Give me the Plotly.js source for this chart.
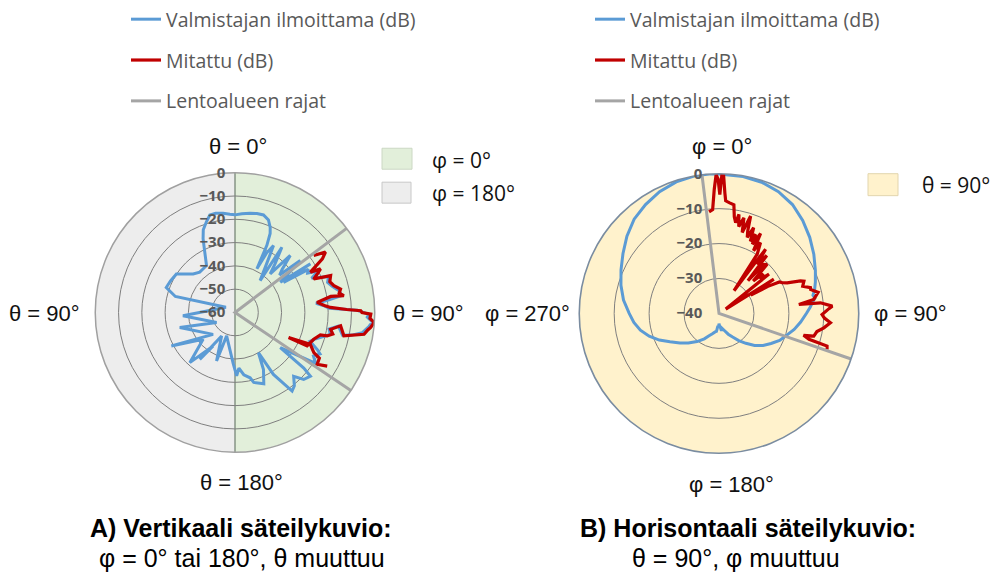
<!DOCTYPE html>
<html>
<head>
<meta charset="utf-8">
<script src="https://cdn.plot.ly/plotly-3.0.1.min.js"></script>
<style>
  html, body { margin: 0; padding: 0; background: #ffffff; }
  #chart { width: 993px; height: 572px; }
</style>
</head>
<body>
<div id="chart"></div>
<script>
// ---------- A) vertical pattern: θ sweeps, φ = 0° (right half) or 180° (left half) ----------
const vertManufTheta = [0, 4, 8.6, 12.5, 16.3, 19.9, 22.5, 24, 25.4, 26.6, 28, 29.9, 32.5, 38.3, 35.7, 39.5, 42.4, 44.1, 47.5, 50, 51.5, 56.3, 57.2, 58.2, 59.5, 61.5, 63.5, 66, 69, 72, 75, 78, 81, 82.5, 83.5, 85.5, 87.5, 89, 90.7, 92, 94, 96, 99, 101, 102, 97.5, 100, 103, 105, 108, 111, 114.5, 116, 119, 122.3, 127.8, 129, 130.2, 134.3, 137.4, 141, 144, 148.2, 149.8, 153.5, 158, 165, 167, 172, 176, 178.5, 182, 188, 199.6, 200.8, 209.7, 216.9, 213, 222, 229.9, 242.2, 225, 254.7, 241.3, 266.3, 300, 285, 290, 296, 303.3, 312.6, 318.8, 324, 328.8, 333.4, 336.6, 339, 342.5, 345.5, 349, 353.2, 357, 360];
const vertManufDb = [-18.1, -17.5, -16.9, -16.5, -16.4, -17.8, -20.5, -22.9, -28.1, -39, -31, -26.8, -34, -42.6, -25.5, -33, -37.6, -25.9, -32.5, -35, -24.2, -36.6, -21.5, -35.5, -23.5, -24.5, -20, -24, -17, -18.2, -16.8, -14.5, -13.5, -20, -25, -22, -19.5, -7.5, -2.8, -3.2, -0.8, -2.2, -4.6, -9, -12.8, -15.2, -19, -18, -20.5, -23.5, -25.5, -21, -19.4, -21.5, -19, -35.4, -22, -17.6, -18.8, -22.8, -19.5, -18.3, -28.7, -40, -32.6, -27, -28.9, -31.2, -33, -36, -32.8, -38, -44, -49.3, -37.7, -48.4, -34.8, -42.8, -31, -42.1, -29.1, -46.7, -35.4, -51, -37.6, -55.5, -33.5, -28.6, -29.2, -29.9, -35.6, -37, -36.8, -36.4, -31, -25.5, -22, -19.2, -16.8, -16.6, -17.1, -17.8, -18.1];

const vertMeasTheta = [54.1, 56.3, 58.5, 61.9, 63, 64.5, 67, 68.9, 72, 74.8, 77.5, 79.5, 81.2, 80.5, 83, 85.5, 87, 88.5, 89.2, 90, 90.7, 92.5, 94.1, 96.3, 97.5, 99.6, 102.1, 97.2, 100, 102.5, 104.3, 104.8, 108.8, 114.9, 115.1, 112.9, 117, 118.5, 122.3, 120.2];
const vertMeasDb = [-18.3, -13.3, -16, -23.3, -18.8, -20.5, -23.3, -16, -17.2, -16, -13.6, -14.5, -12.7, -18.3, -24.5, -21.5, -19, -12, -6, -5.5, -1.7, -2, -0.1, -1.4, -2.5, -3.8, -12.2, -14.3, -18.3, -17, -19.2, -22.1, -24.3, -25.9, -34.6, -24.9, -22, -18.8, -18.3, -14.2];

// flight-area limits: edge -> centre -> edge
const vertLimitTheta = [53, 53, 124];
const vertLimitDb = [0, -60, 0];

// the two half planes of the vertical cut
const halfTheta = [90, 270];
const halfNames = ['φ = 0°', 'φ = 180°'];

// ---------- B) horizontal pattern: θ = 90°, φ sweeps ----------
const horManufPhi = [0, 10, 18, 26, 34, 42, 50, 58, 66, 72, 76, 79, 81, 83, 86, 90, 96, 102, 108, 114, 120, 126, 132, 138, 144, 150, 156, 162, 168, 172, 175, 178, 180, 182, 185, 188, 192, 198, 204, 210, 218, 226, 233, 240, 246, 252, 258, 264, 270, 278, 286, 294, 302, 310, 318, 326, 334, 342, 350, 356, 360];
const horManufDb = [-0.1, -0.2, -0.5, -1.2, -2.4, -4.2, -6.1, -8.0, -9.8, -11.0, -11.8, -12.6, -12.2, -13.0, -13.8, -15.0, -16.5, -18.0, -19.7, -21.0, -22.8, -24.4, -26.3, -28.5, -30.4, -32.2, -33.5, -34.8, -35.6, -35.0, -36.2, -36.6, -37.1, -36.0, -36.4, -34.8, -34.6, -33.9, -33.0, -31.6, -29.8, -27.8, -26.0, -23.8, -21.3, -19.0, -17.0, -15.5, -14.3, -12.4, -10.8, -9.3, -7.6, -5.6, -3.7, -2.4, -1.2, -0.4, 0, 0, -0.1];

const horMeasPhi = [354.4, 356.5, 357.8, 358.8, 359.6, 0.4, 1.2, 1.9, 2.8, 3.4, 5.5, 7.8, 9.0, 10.4, 11.4, 12.8, 14.6, 16.0, 18.0, 19.2, 20.4, 22.0, 23.5, 24.8, 25.7, 27.5, 28.8, 30.4, 32.8, 33.5, 35.4, 36.0, 37.8, 39.5, 41.5, 42.5, 44.4, 46.5, 48, 50.5, 51.8, 57.0, 58.0, 60, 61.0, 62.5, 63.9, 65.8, 68.2, 69.2, 72.0, 74.2, 75.3, 78.0, 81.6, 83.6, 84.0, 86.3, 87.5, 90.6, 92.5, 94.8, 97.8, 100.5, 103.4, 104.5, 106.0, 106.8, 108.4];
const horMeasDb = [-10.8, -10.2, -4.5, -0.3, -1.5, -6.0, -0.2, -0.4, -5.5, -7.7, -8.2, -8.6, -12.0, -13.6, -11.1, -14.5, -11.7, -15.9, -10.7, -15.0, -16.8, -13.5, -17.5, -15.0, -18.0, -14.2, -19.5, -16.5, -19.8, -32.2, -22.7, -17.3, -22.2, -18.5, -27.5, -21, -20.3, -26.5, -23, -24.6, -21.8, -37.7, -21.5, -29.5, -24, -20.5, -19.9, -18.6, -14.9, -14.0, -14.8, -12.8, -12.9, -11.0, -12.6, -17.0, -10.8, -7.5, -8.5, -10.5, -9.8, -8.0, -9.7, -11.5, -12.1, -15.0, -13.2, -7.7, -7.4];

const horLimitPhi = [353, 353, 109];
const horLimitDb = [0, -40, 0];

// legend names
const seriesNames = ['Valmistajan ilmoittama (dB)', 'Mitattu (dB)', 'Lentoalueen rajat'];

// radial ticks
const vertTicks = [-60, -50, -40, -30, -20, -10, 0];
const horTicks = [-40, -30, -20, -10, 0];

// ---------- styling ----------
const BLUE = '#5B9BD5', RED = '#C00000', GREY = '#A5A5A5';
const GREEN_BG = '#E2EFDA', GREY_BG = '#EDEDED', YELLOW_BG = '#FFF2CC';
const W = 993, H = 572;
const px = x => x / W;
const py = y => 1 - y / H;

const leftDomain = {x: [px(95), px(375)], y: [py(452), py(172)]};
const rightDomain = {x: [px(579), px(859)], y: [py(453), py(173)]};

const tickFont = {family: 'Open Sans, sans-serif', size: 15, color: '#595959', weight: 'bold'};
// invisible ticks only push the radial labels away from the axis
const hiddenTick = {ticks: 'outside', tickcolor: 'rgba(0,0,0,0)'};

const traces = [
  // background halves of the vertical cut (own subplot, under the grid)
  {type: 'barpolar', subplot: 'polar', theta: [halfTheta[0]], r: [1], width: [180],
   marker: {color: GREEN_BG, line: {width: 0}}, name: halfNames[0], showlegend: false, hoverinfo: 'skip'},
  {type: 'barpolar', subplot: 'polar', theta: [halfTheta[1]], r: [1], width: [180],
   marker: {color: GREY_BG, line: {width: 0}}, name: halfNames[1], showlegend: false, hoverinfo: 'skip'},

  // A) vertical
  {type: 'scatterpolar', subplot: 'polar2', mode: 'lines', theta: vertManufTheta, r: vertManufDb,
   line: {color: BLUE, width: 3}, name: seriesNames[0], legend: 'legend', legendgroup: 'a1'},
  {type: 'scatterpolar', subplot: 'polar2', mode: 'lines', theta: vertMeasTheta, r: vertMeasDb,
   line: {color: RED, width: 3.2}, name: seriesNames[1], legend: 'legend', legendgroup: 'a2'},
  {type: 'scatterpolar', subplot: 'polar2', mode: 'lines', theta: vertLimitTheta, r: vertLimitDb,
   line: {color: GREY, width: 3}, name: seriesNames[2], legend: 'legend', legendgroup: 'a3'},

  // B) horizontal
  {type: 'scatterpolar', subplot: 'polar3', mode: 'lines', theta: horManufPhi, r: horManufDb,
   line: {color: BLUE, width: 3}, name: seriesNames[0], legend: 'legend2', legendgroup: 'b1'},
  {type: 'scatterpolar', subplot: 'polar3', mode: 'lines', theta: horMeasPhi, r: horMeasDb,
   line: {color: RED, width: 3.2}, name: seriesNames[1], legend: 'legend2', legendgroup: 'b2'},
  {type: 'scatterpolar', subplot: 'polar3', mode: 'lines', theta: horLimitPhi, r: horLimitDb,
   line: {color: GREY, width: 3}, name: seriesNames[2], legend: 'legend2', legendgroup: 'b3'}
];

const legendBase = {
  xanchor: 'left', yanchor: 'top', y: 1 + 1 / H,
  bgcolor: 'rgba(0,0,0,0)', borderwidth: 0,
  font: {family: 'Open Sans, sans-serif', size: 19.5, color: '#595959'},
  traceorder: 'grouped', tracegroupgap: 12.5, itemwidth: 30
};

const axisLabelFont = {family: 'Liberation Sans, Arial, sans-serif', size: 22, color: '#111111'};
const boxLabelFont = {family: 'Open Sans, sans-serif', size: 21, color: '#111111'};
const titleFont = {family: 'Liberation Sans, Arial, sans-serif', size: 25, color: '#000000', weight: 'bold'};
const subFont = {family: 'Liberation Sans, Arial, sans-serif', size: 25, color: '#000000'};

function label(text, x, y, font, xanchor) {
  return {text: text, x: px(x), y: py(y), xref: 'paper', yref: 'paper',
          showarrow: false, font: font, xanchor: xanchor || 'center', yanchor: 'middle'};
}
function box(x0, x1, y0, y1, fill, edge) {
  return {type: 'rect', xref: 'paper', yref: 'paper', x0: px(x0), x1: px(x1), y0: py(y1), y1: py(y0),
          fillcolor: fill, line: {color: edge, width: 1}};
}

const layout = {
  width: W, height: H,
  margin: {l: 0, r: 0, t: 0, b: 0},
  paper_bgcolor: '#ffffff',
  showlegend: true,
  dragmode: false,
  legend: Object.assign({}, legendBase, {x: px(126)}),
  legend2: Object.assign({}, legendBase, {x: px(590)}),

  polar: {
    domain: leftDomain, bgcolor: 'rgba(0,0,0,0)',
    radialaxis: {visible: false, range: [0, 1]},
    angularaxis: {rotation: 90, direction: 'clockwise', showgrid: false, showline: false,
                  showticklabels: false, ticks: ''}
  },
  polar2: {
    domain: leftDomain, bgcolor: 'rgba(0,0,0,0)',
    radialaxis: Object.assign({range: [-60, 0], tickvals: vertTicks, angle: 90, side: 'counterclockwise',
                 tickangle: 90, ticklen: 4, showline: false, gridcolor: '#7F7F7F', gridwidth: 1,
                 tickfont: tickFont}, hiddenTick),
    angularaxis: {rotation: 90, direction: 'clockwise', tickvals: [0, 180], showticklabels: false,
                  ticks: '', showgrid: true, gridcolor: '#6E7D6E', gridwidth: 1.2,
                  showline: true, linecolor: '#A0A0A0', linewidth: 1.5}
  },
  polar3: {
    domain: rightDomain, bgcolor: YELLOW_BG,
    radialaxis: Object.assign({range: [-40, 0], tickvals: horTicks, angle: 90, side: 'counterclockwise',
                 tickangle: 90, ticklen: 11, showline: false, gridcolor: '#7F7F7F', gridwidth: 1,
                 tickfont: tickFont}, hiddenTick),
    angularaxis: {rotation: 90, direction: 'clockwise', showticklabels: false, ticks: '',
                  showgrid: false, showline: true, linecolor: '#7A8CA0', linewidth: 1.6}
  },

  shapes: [
    box(382, 412, 147.5, 168.5, GREEN_BG, '#CCD8C4'),
    box(382, 411, 181.5, 202.5, GREY_BG, '#C8C8C8'),
    box(868, 898, 173, 195, YELLOW_BG, '#E2D5AE')
  ],

  annotations: [
    label('θ = 0°', 238, 146, axisLabelFont),
    label('θ = 90°', 44, 313, axisLabelFont),
    label('θ = 90°', 428, 313, axisLabelFont),
    label('θ = 180°', 241, 482, axisLabelFont),
    label('φ = 0°', 722, 146, axisLabelFont),
    label('φ = 270°', 527, 313, axisLabelFont),
    label('φ = 90°', 910, 313, axisLabelFont),
    label('φ = 180°', 731, 484, axisLabelFont),

    label(halfNames[0], 430, 159, boxLabelFont, 'left'),
    label(halfNames[1], 430, 192, boxLabelFont, 'left'),
    label('θ = 90°', 920, 184, boxLabelFont, 'left'),

    label('A) Vertikaali säteilykuvio:', 241, 528, titleFont),
    label('φ = 0° tai 180°, θ muuttuu', 241.5, 558, subFont),
    label('B) Horisontaali säteilykuvio:', 748, 528, titleFont),
    label('θ = 90°, φ muuttuu', 736, 558, subFont)
  ]
};

Plotly.newPlot('chart', traces, layout, {staticPlot: true, displayModeBar: false});
</script>
</body>
</html>
